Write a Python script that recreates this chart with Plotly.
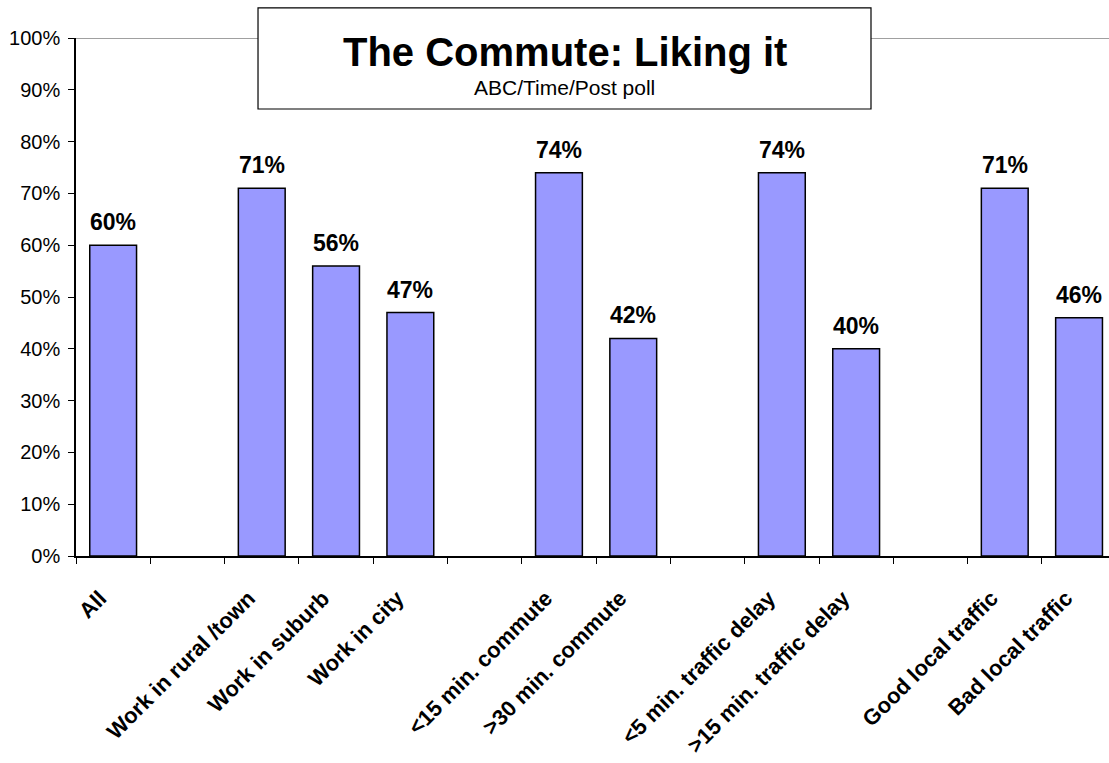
import plotly.graph_objects as go

# Survey groups, with blank slots separating the groups on the axis
slots = ["All", " ", "Work in rural /town", "Work in suburb", "Work in city", "  ",
         "<15 min. commute", ">30 min. commute", "   ",
         "<5 min. traffic delay", ">15 min. traffic delay", "    ",
         "Good local traffic", "Bad local traffic"]

categories = ["All", "Work in rural /town", "Work in suburb", "Work in city",
              "<15 min. commute", ">30 min. commute",
              "<5 min. traffic delay", ">15 min. traffic delay",
              "Good local traffic", "Bad local traffic"]
liking = [0.60, 0.71, 0.56, 0.47, 0.74, 0.42, 0.74, 0.40, 0.71, 0.46]

title_text = "The Commute: Liking it"
subtitle_text = "ABC/Time/Post poll"

FONT = "Liberation Sans, Arial, sans-serif"

fig = go.Figure()
fig.add_trace(go.Bar(
    x=categories,
    y=liking,
    width=0.63,
    marker=dict(color="#9999FF", line=dict(color="black", width=1.5)),
    hoverinfo="x+y",
))

# Value labels above each bar
for c, v in zip(categories, liking):
    fig.add_annotation(
        x=c, y=v, text=f"<b>{round(v * 100)}%</b>",
        showarrow=False, yanchor="bottom", yshift=8,
        font=dict(family=FONT, size=23, color="black"),
    )

# Line along the top of the value axis
fig.add_shape(type="line", xref="paper", yref="y", x0=0, x1=1, y0=1, y1=1,
              line=dict(color="#808080", width=1.5))

# Boxed title
fig.add_shape(type="rect", xref="paper", yref="paper",
              x0=0.1762, x1=0.7696, y0=0.8629, y1=1.058,
              fillcolor="white", line=dict(color="black", width=1.2))
fig.add_annotation(xref="paper", yref="paper", x=0.4729, y=0.973,
                   xanchor="center", yanchor="middle",
                   text=f"<b>{title_text}</b>", showarrow=False,
                   font=dict(family=FONT, size=40, color="black"))
fig.add_annotation(xref="paper", yref="paper", x=0.4729, y=0.904,
                   xanchor="center", yanchor="middle",
                   text=subtitle_text, showarrow=False,
                   font=dict(family=FONT, size=21, color="black"))

fig.update_layout(
    width=1109, height=763,
    margin=dict(l=76, r=0, t=38, b=207),
    paper_bgcolor="white", plot_bgcolor="white",
    showlegend=False,
    font=dict(family=FONT, color="black"),
    xaxis=dict(
        type="category",
        categoryorder="array", categoryarray=slots,
        range=[-0.5, 13.403],
        automargin=False,
        tickson="boundaries",
        ticks="outside", ticklen=6, tickcolor="black", tickwidth=1,
        showline=True, linecolor="black", linewidth=1.5,
        showgrid=False, zeroline=False,
        tickangle=-45,
        ticklabelstandoff=19,
        ticklabelshift=-13,
        tickfont=dict(family=FONT, size=22, color="black", weight="bold"),
    ),
    yaxis=dict(
        range=[0, 1],
        automargin=False,
        dtick=0.1, tickformat=".0%",
        ticks="outside", ticklen=6, tickcolor="black", tickwidth=1,
        showline=True, linecolor="black", linewidth=1.5,
        showgrid=False, zeroline=False,
        ticklabelstandoff=4,
        tickfont=dict(family=FONT, size=20, color="black"),
    ),
)

fig.write_html("out.html")
